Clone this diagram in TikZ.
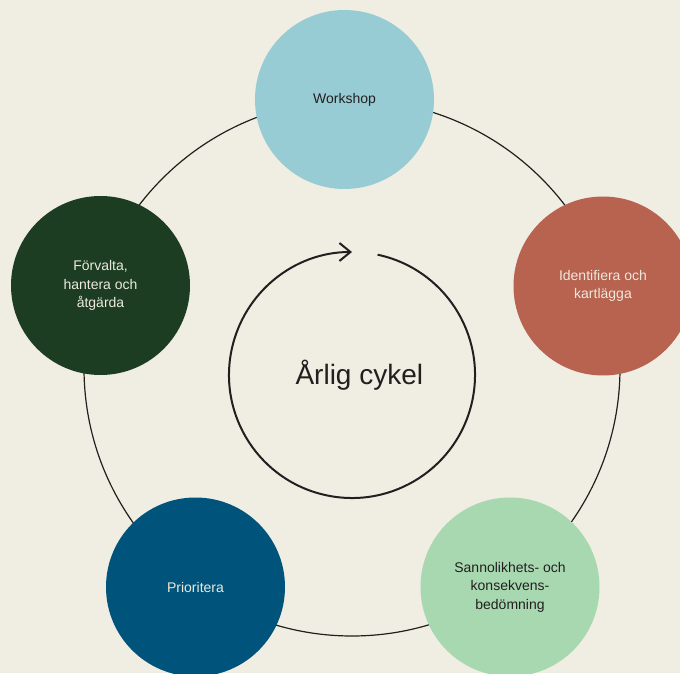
\documentclass[tikz,border=0pt]{standalone}
\usepackage{fontspec}
\setmainfont{Liberation Sans}
\usepackage{xcolor}
\usetikzlibrary{arrows.meta,positioning,calc}
\definecolor{CycleCream}{HTML}{F0EDE3}
\definecolor{CycleInk}{HTML}{231F20}
\definecolor{CycleSky}{HTML}{97CCD4}
\definecolor{CycleBrick}{HTML}{B86250}
\definecolor{CycleMint}{HTML}{A8D8B0}
\definecolor{CyclePetrol}{HTML}{00547C}
\definecolor{CycleForest}{HTML}{1C3D22}
\definecolor{CycleLight}{HTML}{EDE9DC}
\tikzset{
    % Base phase circle
    phasenode/.style={
        circle,
        draw=none,
        minimum size=179pt,
        inner sep=0pt,
        align=center,
        font=\fontsize{14}{18.5}\selectfont
    },
    % Light phases, dark text
    lightphase/.style={
        phasenode,
        text=CycleInk
    },
    % Dark phases, light text
    darkphase/.style={
        phasenode,
        text=CycleLight
    },
    % Outer ring through the phases
    ringline/.style={
        line width=1.2pt,
        draw=CycleInk
    },
    % Inner cycle arrow
    cyclearrow/.style={
        -{Straight Barb[length=11pt,width=18pt,line width=2pt]},
        line width=2pt,
        draw=CycleInk
    }
}
\begin{document}
\begin{tikzpicture}[x=1pt,y=1pt]
        % Background
        \fill[CycleCream] (0,0) rectangle (680,673);
        \useasboundingbox (0,0) rectangle (680,673);

        % Ring
        \coordinate (ring) at (352,305);
        \draw[ringline] (ring) circle[radius=268];

        % Phases
        \node[lightphase, fill=CycleSky] (workshop) at (344.5,573.5) {Workshop};
        \node[darkphase, fill=CycleBrick] (identify) at (603,387) {Identifiera och\\kartlägga};
        \node[lightphase, fill=CycleMint] (assess) at (510,86) {Sannolikhets- och\\konsekvens-\\bedömning};
        \node[darkphase, fill=CyclePetrol] (prioritize) at (195.5,86) {Prioritera};
        \node[darkphase, fill=CycleForest] (manage) at (100.5,387.5) {Förvalta,\\hantera och\\åtgärda};

        % Centre
        \coordinate (hub) at (352,298);
        \node[font=\fontsize{28}{32}\selectfont, text=CycleInk, right=-60pt of hub] (annual) {Årlig cykel};
        \draw[cyclearrow] ($(hub)+(78:123)$) arc[start angle=78, end angle=-270, radius=123];
    \end{tikzpicture}
\end{document}
